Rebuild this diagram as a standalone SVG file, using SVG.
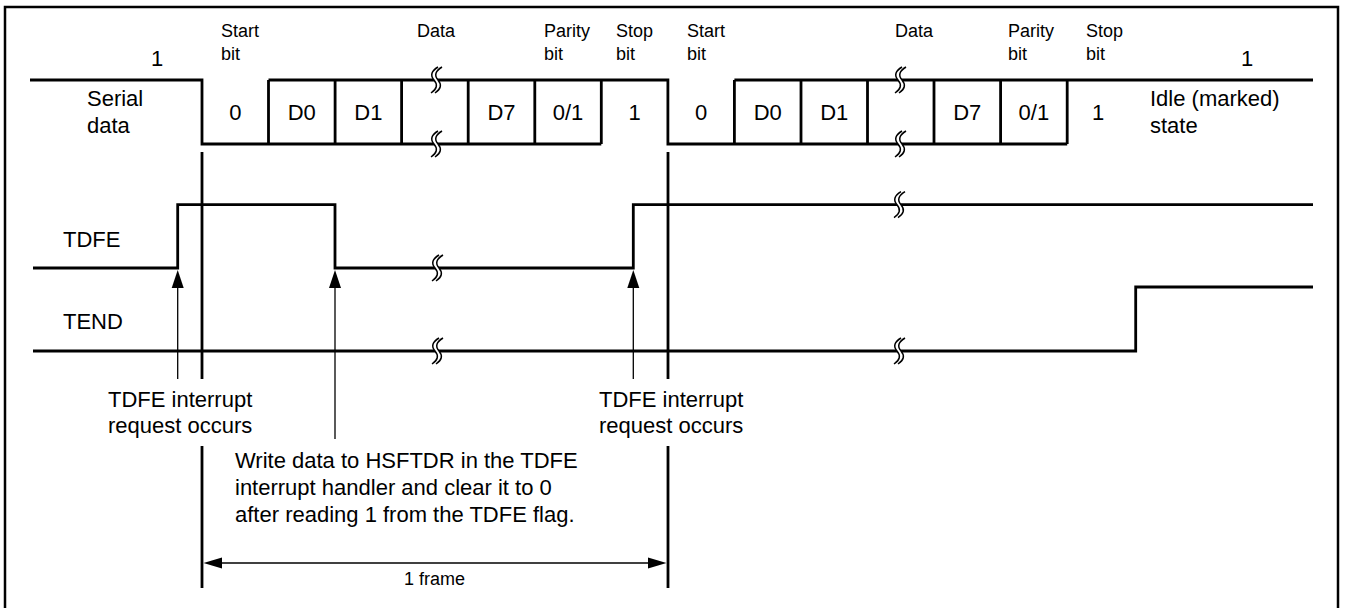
<svg xmlns="http://www.w3.org/2000/svg" xmlns:xlink="http://www.w3.org/1999/xlink" width="1345" height="608" viewBox="0 0 1345 608">
<style>
.wave{fill:none;stroke:#000;stroke-width:2.8;stroke-linecap:butt;stroke-linejoin:miter}
.thin{fill:none;stroke:#000;stroke-width:1.3}
.L{font-family:"Liberation Sans",Arial,sans-serif;font-size:22px;fill:#000}
.S{font-family:"Liberation Sans",Arial,sans-serif;font-size:18px;fill:#000}
.c{text-anchor:middle}
.head{fill:#000;stroke:none}
</style>
<defs>
<g id="brk">
<path d="M2,-13 Q-8,-7 -2,0 Q4,7 -5,13 L-1,13 Q8,7 2,0 Q-4,-7 6,-13 Z" fill="#fff" stroke="none"/>
<path d="M2,-13 Q-8,-7 -2,0 Q4,7 -5,13 M6,-13 Q-4,-7 2,0 Q8,7 -1,13" fill="none" stroke="#000" stroke-width="1.5"/>
</g>
</defs>
<rect x="0" y="0" width="1345" height="608" fill="#fff"/>
<rect id="frame-border" x="5" y="7" width="1333" height="610" fill="none" stroke="#000" stroke-width="2.5"/>

<g id="serial-data">
<path class="wave" d="M30,80 H202 V144 H601.3 M268.5,80 H667.9 V144 H1067.2 M734.4,80 H1313"/>
<path class="wave" d="M268.5,80 V144 M335.1,80 V144 M401.6,80 V144 M468.2,80 V144 M534.8,80 V144 M601.3,80 V144 M734.4,80 V144 M801,80 V144 M867.5,80 V144 M934,80 V144 M1000.6,80 V144 M1067.2,80 V144"/>
<use xlink:href="#brk" transform="translate(436,80)"/>
<use xlink:href="#brk" transform="translate(436,144)"/>
<use xlink:href="#brk" transform="translate(900,80)"/>
<use xlink:href="#brk" transform="translate(900,144)"/>
<text class="L c" x="157" y="66">1</text>
<text class="L" x="87" y="106">Serial</text>
<text class="L" x="87" y="133">data</text>
<text class="L c" x="235.3" y="120">0</text>
<text class="L c" x="301.8" y="120">D0</text>
<text class="L c" x="368.4" y="120">D1</text>
<text class="L c" x="501.5" y="120">D7</text>
<text class="L c" x="568" y="120">0/1</text>
<text class="L c" x="634.6" y="120">1</text>
<text class="L c" x="701.1" y="120">0</text>
<text class="L c" x="767.7" y="120">D0</text>
<text class="L c" x="834.2" y="120">D1</text>
<text class="L c" x="967.3" y="120">D7</text>
<text class="L c" x="1033.9" y="120">0/1</text>
<text class="L c" x="1098" y="120">1</text>
<text class="L c" x="1247" y="66">1</text>
<text class="L" x="1150" y="106">Idle (marked)</text>
<text class="L" x="1150" y="133">state</text>
</g>

<g id="bit-labels">
<text class="S" x="221" y="37">Start</text>
<text class="S" x="221" y="60">bit</text>
<text class="S" x="417" y="37">Data</text>
<text class="S" x="544" y="37">Parity</text>
<text class="S" x="544" y="60">bit</text>
<text class="S" x="616" y="37">Stop</text>
<text class="S" x="616" y="60">bit</text>
<text class="S" x="687" y="37">Start</text>
<text class="S" x="687" y="60">bit</text>
<text class="S" x="895" y="37">Data</text>
<text class="S" x="1008" y="37">Parity</text>
<text class="S" x="1008" y="60">bit</text>
<text class="S" x="1086" y="37">Stop</text>
<text class="S" x="1086" y="60">bit</text>
</g>

<g id="tdfe">
<path class="wave" d="M33,268 H177.7 V204.7 H335 V268 H633.3 V204.7 H1313"/>
<use xlink:href="#brk" transform="translate(437,268)"/>
<use xlink:href="#brk" transform="translate(899,204.7)"/>
<text class="L" x="63" y="247">TDFE</text>
</g>

<g id="tend">
<path class="wave" d="M33,351 H1135.7 V287 H1313"/>
<use xlink:href="#brk" transform="translate(437,351)"/>
<use xlink:href="#brk" transform="translate(899,351)"/>
<text class="L" x="63" y="329">TEND</text>
</g>

<g id="frame-markers">
<path class="wave" d="M202,152 V379 M202,446 V588 M668,152 V379 M668,446 V588"/>
</g>

<g id="connectors">
<line class="thin" x1="177.7" y1="286" x2="177.7" y2="379"/>
<polygon class="head" points="177.7,270 171.7,288 183.7,288"/>
<line class="thin" x1="335" y1="286" x2="335" y2="439"/>
<polygon class="head" points="335,270 329,288 341,288"/>
<line class="thin" x1="633.3" y1="286" x2="633.3" y2="379"/>
<polygon class="head" points="633.3,270 627.3,288 639.3,288"/>
<line class="thin" x1="215" y1="563" x2="655" y2="563"/>
<polygon class="head" points="203.5,563 222,557.5 222,568.5"/>
<polygon class="head" points="666.5,563 648,557.5 648,568.5"/>
</g>

<g id="annotations">
<text class="L" x="108" y="407">TDFE interrupt</text>
<text class="L" x="108" y="433">request occurs</text>
<text class="L" x="599" y="407">TDFE interrupt</text>
<text class="L" x="599" y="433">request occurs</text>
<text class="L" x="235" y="468">Write data to HSFTDR in the TDFE</text>
<text class="L" x="235" y="495">interrupt handler and clear it to 0</text>
<text class="L" x="235" y="522">after reading 1 from the TDFE flag.</text>
<text class="S" x="404" y="585">1 frame</text>
</g>
</svg>
